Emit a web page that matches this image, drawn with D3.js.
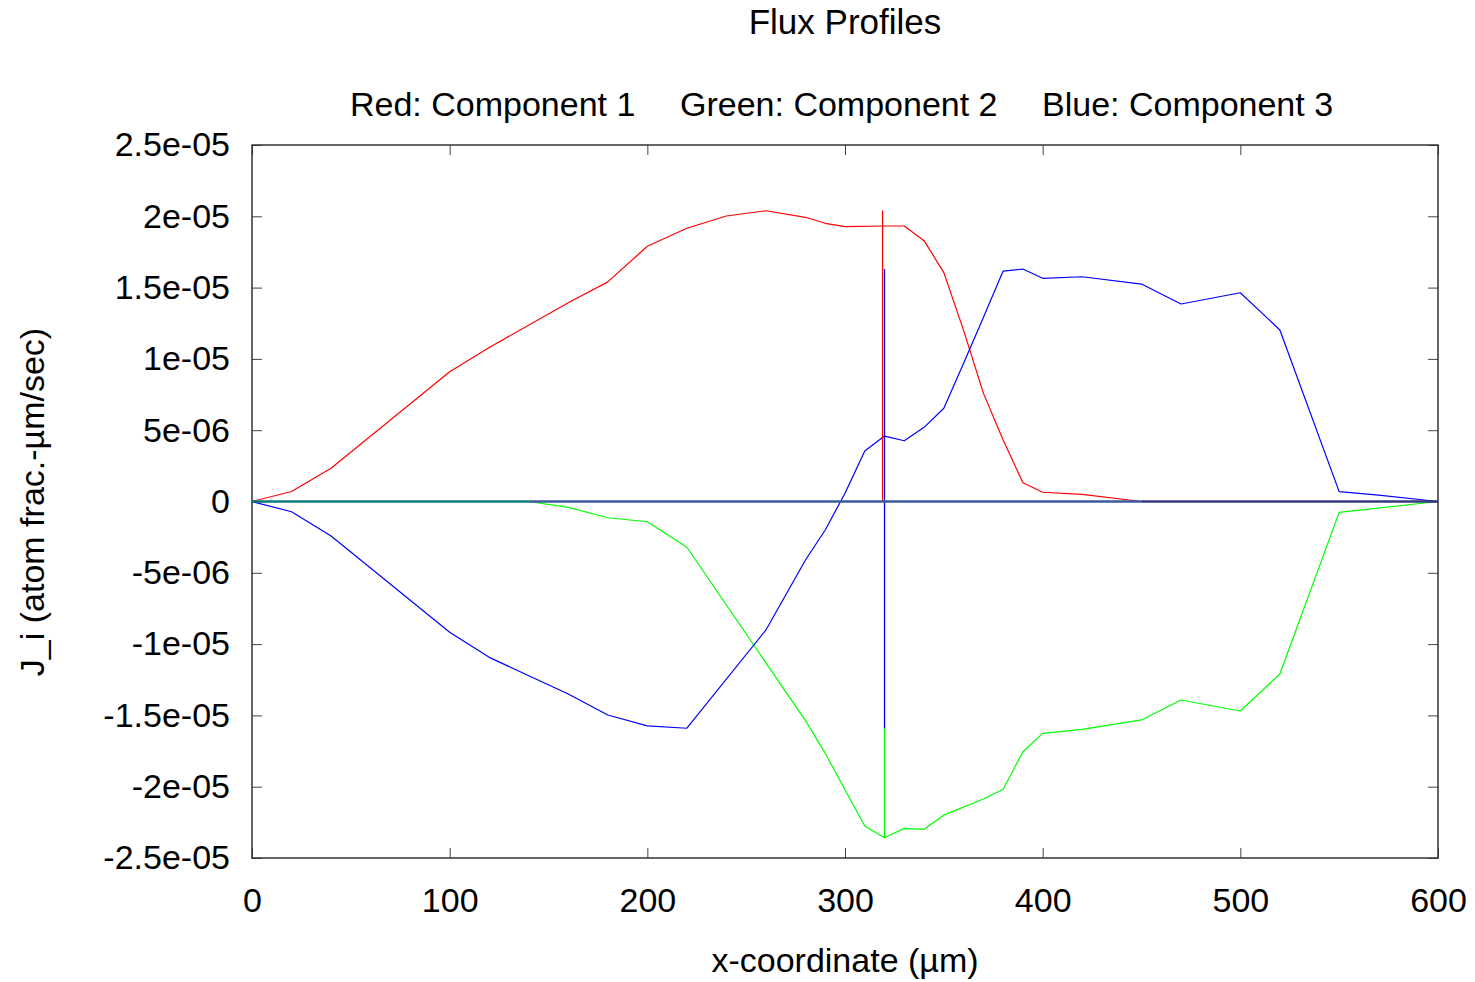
<!DOCTYPE html>
<html>
<head>
<meta charset="utf-8">
<script src="https://cdn.jsdelivr.net/npm/d3@7"></script>
<style>
  body { margin: 0; background: #fff; }
  text { font-family: "Liberation Sans", Arial, Helvetica, sans-serif; fill: #000; }
</style>
</head>
<body>
<svg id="chart" width="1475" height="982"></svg>
<script>
// flux data (x in µm, J in atom frac.-µm/sec)
var redX = [0, 20, 40, 100, 120, 160, 180, 200, 220, 240, 260, 280, 290, 300, 320, 330, 340, 350, 360, 370, 380, 390, 400, 420, 450, 600];
var redJ = [0, 0.7e-6, 2.33e-6, 9.1e-6, 10.8e-6, 13.94e-6, 15.4e-6, 17.9e-6, 19.16e-6, 20.02e-6, 20.39e-6, 19.93e-6, 19.51e-6, 19.27e-6, 19.32e-6, 19.32e-6, 18.29e-6, 16.05e-6, 12.0e-6, 7.6e-6, 4.31e-6, 1.32e-6, 0.65e-6, 0.5e-6, 0, 0];

var greenX = [0, 140, 160, 180, 200, 220, 280, 290, 310, 320, 330, 340, 350, 370, 380, 390, 400, 420, 450, 470, 500, 520, 550, 600];
var greenJ = [0, 0, -0.41e-6, -1.14e-6, -1.42e-6, -3.21e-6, -15.37e-6, -17.66e-6, -22.76e-6, -23.58e-6, -22.92e-6, -22.99e-6, -21.99e-6, -20.86e-6, -20.18e-6, -17.55e-6, -16.26e-6, -15.98e-6, -15.32e-6, -13.92e-6, -14.69e-6, -12.1e-6, -0.76e-6, 0];

var blueX = [0, 20, 40, 100, 120, 160, 180, 200, 220, 260, 280, 290, 300, 310, 320, 330, 340, 350, 360, 370, 380, 390, 400, 420, 450, 470, 500, 520, 550, 570, 600];
var blueJ = [0, -0.72e-6, -2.42e-6, -9.17e-6, -10.93e-6, -13.5e-6, -14.97e-6, -15.74e-6, -15.9e-6, -9.01e-6, -4.1e-6, -2.0e-6, 0.58e-6, 3.54e-6, 4.59e-6, 4.26e-6, 5.2e-6, 6.54e-6, 9.7e-6, 12.9e-6, 16.16e-6, 16.3e-6, 15.65e-6, 15.76e-6, 15.25e-6, 13.85e-6, 14.64e-6, 12.03e-6, 0.69e-6, 0.45e-6, 0];

// vertical jumps at the interface
var redSpikeX = [319, 319];
var redSpikeJ = [0, 20.4e-6];
var greenSpikeX = [320, 320];
var greenSpikeJ = [0, -23.58e-6];
var blueSpikeX = [320, 320];
var blueSpikeJ = [16.3e-6, -15.9e-6];

// zero line pieces
var zeroX = [0, 140, 450, 600];

var xTicks = [0, 100, 200, 300, 400, 500, 600];
var yTicks = [2.5e-5, 2e-5, 1.5e-5, 1e-5, 5e-6, 0, -5e-6, -1e-5, -1.5e-5, -2e-5, -2.5e-5];
var yTickLabels = ["2.5e-05", "2e-05", "1.5e-05", "1e-05", "5e-06", "0", "-5e-06", "-1e-05", "-1.5e-05", "-2e-05", "-2.5e-05"];

var svg = d3.select("#chart"),
    margin = { top: 145, right: 37, bottom: 124, left: 252 },
    width = +svg.attr("width") - margin.left - margin.right,
    height = +svg.attr("height") - margin.top - margin.bottom,
    g = svg.append("g").attr("transform", "translate(" + margin.left + "," + margin.top + ")");

var x = d3.scaleLinear().domain([0, 600]).range([0, width]);
var y = d3.scaleLinear().domain([-2.5e-5, 2.5e-5]).range([height, 0]);

function zip(xs, ys) {
    return xs.map(function (v, i) { return [v, ys[i]]; });
}

var line = d3.line()
    .x(function (d) { return x(d[0]); })
    .y(function (d) { return y(d[1]); });

// axes, gnuplot style: ticks inward, mirrored
var fontSize = 34;
var tickLen = 10;

g.append("g")
    .attr("transform", "translate(0," + height + ")")
    .call(d3.axisBottom(x).tickValues(xTicks).tickSizeInner(-tickLen).tickSizeOuter(0).tickPadding(30))
    .call(function (a) {
        a.select(".domain").remove();
        a.selectAll("text").style("font-size", fontSize + "px").attr("fill", "#000");
        a.selectAll("line").attr("stroke", "#444");
    });

g.append("g")
    .call(d3.axisTop(x).tickValues(xTicks).tickSizeInner(-tickLen).tickSizeOuter(0).tickFormat(""))
    .call(function (a) {
        a.select(".domain").remove();
        a.selectAll("line").attr("stroke", "#444");
    });

g.append("g")
    .call(d3.axisLeft(y).tickValues(yTicks).tickSizeInner(-tickLen).tickSizeOuter(0).tickPadding(22)
        .tickFormat(function (d, i) { return yTickLabels[i]; }))
    .call(function (a) {
        a.select(".domain").remove();
        a.selectAll("text").style("font-size", fontSize + "px").attr("fill", "#000");
        a.selectAll("line").attr("stroke", "#444");
    });

g.append("g")
    .attr("transform", "translate(" + width + ",0)")
    .call(d3.axisRight(y).tickValues(yTicks).tickSizeInner(-tickLen).tickSizeOuter(0).tickFormat(""))
    .call(function (a) {
        a.select(".domain").remove();
        a.selectAll("line").attr("stroke", "#444");
    });

// border
g.append("rect")
    .attr("width", width)
    .attr("height", height)
    .attr("fill", "none")
    .attr("stroke", "#333")
    .attr("stroke-width", 1.5);

// series
var series = [
    { pts: zip(redX, redJ), color: "#ff0000" },
    { pts: zip(greenX, greenJ), color: "#00ff00" },
    { pts: zip(blueX, blueJ), color: "#0000ff" },
    { pts: zip(redSpikeX, redSpikeJ), color: "#ff0000" },
    { pts: zip(greenSpikeX, greenSpikeJ), color: "#00ff00" },
    { pts: zip(blueSpikeX, blueSpikeJ), color: "#0000ff" }
];

series.forEach(function (s) {
    g.append("path")
        .datum(s.pts)
        .attr("fill", "none")
        .attr("stroke", s.color)
        .attr("stroke-width", 1.2)
        .attr("stroke-linejoin", "round")
        .attr("d", line);
});

// zero line where the curves overlap
var zeroColors = ["#0a7a7e", "#3b5a9c", "#35397a"];
for (var i = 0; i < zeroX.length - 1; i++) {
    g.append("line")
        .attr("x1", x(zeroX[i]))
        .attr("x2", x(zeroX[i + 1]))
        .attr("y1", y(0))
        .attr("y2", y(0))
        .attr("stroke", zeroColors[i])
        .attr("stroke-width", 2.4);
}

// titles
svg.append("text")
    .attr("x", 845)
    .attr("y", 34)
    .attr("text-anchor", "middle")
    .style("font-size", "35px")
    .text("Flux Profiles");

var legend = [
    { label: "Red: Component 1", x: 350 },
    { label: "Green: Component 2", x: 680 },
    { label: "Blue: Component 3", x: 1042 }
];
legend.forEach(function (l) {
    svg.append("text")
        .attr("x", l.x)
        .attr("y", 116)
        .style("font-size", "34px")
        .text(l.label);
});

svg.append("text")
    .attr("x", 845)
    .attr("y", 972)
    .attr("text-anchor", "middle")
    .style("font-size", fontSize + "px")
    .text("x-coordinate (µm)");

svg.append("text")
    .attr("transform", "translate(44,502) rotate(-90)")
    .attr("text-anchor", "middle")
    .style("font-size", fontSize + "px")
    .text("J_i (atom frac.-µm/sec)");
</script>
</body>
</html>
